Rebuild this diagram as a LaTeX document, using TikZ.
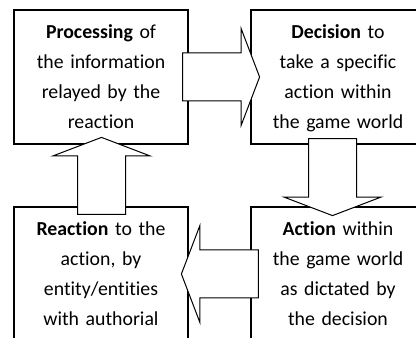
\documentclass[tikz,border=0pt]{standalone}
\usepackage{fontspec}
\setmainfont[Ligatures=NoCommon]{Carlito}
\usetikzlibrary{calc}

\begin{document}
\begin{tikzpicture}[
  x=1pt,y=1pt,
  font=\fontsize{19.8}{29.7}\selectfont,
  stage/.style={draw=black,line width=1.2pt,minimum width=174pt,minimum height=134pt,
                inner xsep=0pt,inner ysep=0pt,text width=170pt,align=center,
                text height=29pt,text depth=105pt},
  blk/.style={draw=black,line width=1pt,fill=white,line join=miter}
]
\clip (0,0) rectangle (416,338);
% ---------- the four stages ----------
\node[stage] (proc)  at (101,261) {\textbf{Processing} of\\the information\\relayed by the\\reaction};
\node[stage] (dec)   at (338,261) {\textbf{Decision} to\\take a specific\\action within\\the game world};
\node[stage] (act)   at (338,64)  {\textbf{Action} within\\the game world\\as dictated by\\the decision};
\node[stage] (react) at (101,64)  {\textbf{Reaction} to the\\action, by\\entity/entities\\with authorial};
% ---------- block arrows between them ----------
\draw[blk] ([xshift=-6pt]proc.east) ++(0,24) -- ++(58.5,0) -- ++(0,24.5)
  -- ++(18.5,-48.5) -- ++(-18.5,-48.5) -- ++(0,24.5) -- ++(-58.5,0) -- cycle;
\draw[blk] ([xshift=-5.5pt,yshift=6pt]dec.south) ++(-24,0) -- ++(0,-58.5) -- ++(-24.5,0)
  -- ++(48.5,-18.5) -- ++(48.5,18.5) -- ++(-24.5,0) -- ++(0,58.5) -- cycle;
\draw[blk] ([xshift=8pt]act.west) ++(0,24) -- ++(-58.5,0) -- ++(0,24.5)
  -- ++(-18.5,-48.5) -- ++(18.5,-48.5) -- ++(0,24.5) -- ++(58.5,0) -- cycle;
\draw[blk] ([xshift=0.5pt,yshift=-8pt]react.north) ++(-24,0) -- ++(0,58.5) -- ++(-24.5,0)
  -- ++(48.5,18.5) -- ++(48.5,-18.5) -- ++(-24.5,0) -- ++(0,-58.5) -- cycle;
\end{tikzpicture}
\end{document}
